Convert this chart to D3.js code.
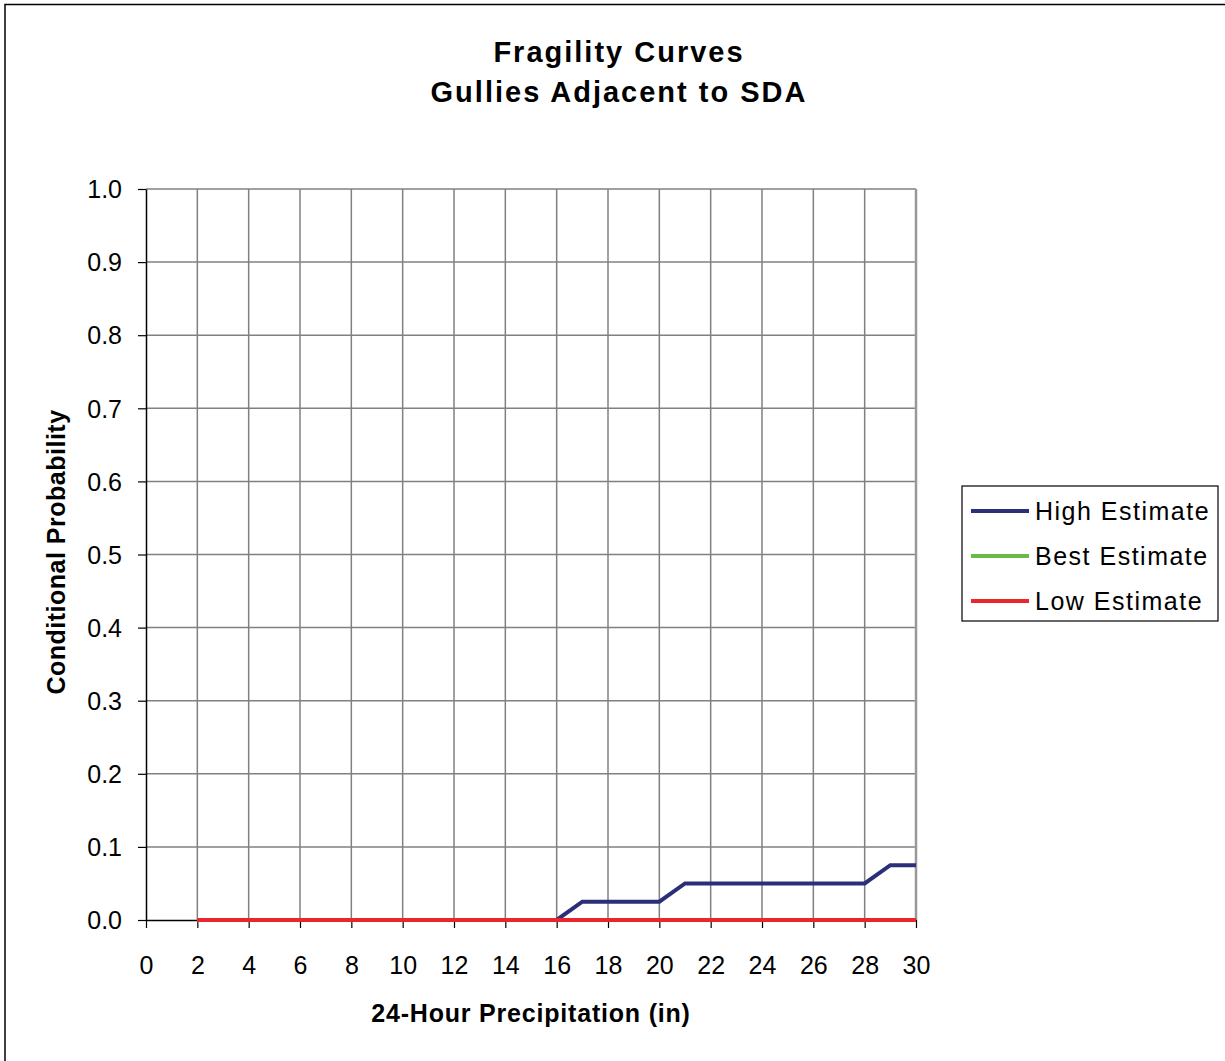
<!DOCTYPE html>
<html><head><meta charset="utf-8">
<script src="https://cdn.jsdelivr.net/npm/d3@7/dist/d3.min.js"></script>
<style>body{margin:0;background:#fff}svg{display:block}text{font-family:"Liberation Sans",Arial,sans-serif}</style>
</head><body>
<svg id="c" width="1225" height="1061"></svg>
<script>
const xValues = [2,3,4,5,6,7,8,9,10,11,12,13,14,15,16,17,18,19,20,21,22,23,24,25,26,27,28,29,30];
const highEstimate = [0,0,0,0,0,0,0,0,0,0,0,0,0,0,0,0.025,0.025,0.025,0.025,0.05,0.05,0.05,0.05,0.05,0.05,0.05,0.05,0.075,0.075];
const bestEstimate = [0,0,0,0,0,0,0,0,0,0,0,0,0,0,0,0,0,0,0,0,0,0,0,0,0,0,0,0,0];
const lowEstimate  = [0,0,0,0,0,0,0,0,0,0,0,0,0,0,0,0,0,0,0,0,0,0,0,0,0,0,0,0,0];
const xTicks = [0,2,4,6,8,10,12,14,16,18,20,22,24,26,28,30];
const yTicks = [0,0.1,0.2,0.3,0.4,0.5,0.6,0.7,0.8,0.9,1.0];
const seriesNames = ["High Estimate","Best Estimate","Low Estimate"];
const seriesColors = ["#2b2f7a","#66bb44","#e8262b"];
const titleLines = ["Fragility Curves","Gullies Adjacent to SDA"];

const svg = d3.select("#c");
const L = 146, R = 916, T = 189, B = 920;
const x = d3.scaleLinear().domain([0,30]).range([L,R]);
const y = d3.scaleLinear().domain([0,1]).range([B,T]);

// outer frame
svg.append("rect").attr("x",5).attr("y",4.5).attr("width",1240).attr("height",1080)
  .attr("fill","none").attr("stroke","#000").attr("stroke-width",1.5);

// grid
const g = svg.append("g");
g.selectAll(".vg").data(xTicks.slice(1)).join("line")
  .attr("x1",d=>x(d)).attr("x2",d=>x(d)).attr("y1",T).attr("y2",B)
  .attr("stroke","#808080").attr("stroke-width",1.5);
g.selectAll(".hg").data(yTicks.slice(1)).join("line")
  .attr("x1",L).attr("x2",R).attr("y1",d=>y(d)).attr("y2",d=>y(d))
  .attr("stroke","#808080").attr("stroke-width",1.5);
g.append("line").attr("x1",R).attr("x2",R).attr("y1",T).attr("y2",B).attr("stroke","#999").attr("stroke-width",2.5);

// axes
const xAxis = d3.axisBottom(x).tickValues(xTicks).tickSize(8).tickSizeOuter(0).tickFormat(d3.format("d"));
const yAxis = d3.axisLeft(y).tickValues(yTicks).tickSize(8).tickSizeOuter(0).tickFormat(d3.format(".1f"));
const gx = svg.append("g").attr("transform",`translate(0,${B})`).call(xAxis);
const gy = svg.append("g").attr("transform",`translate(${L},0)`).call(yAxis);
[gx,gy].forEach(a=>{
  a.attr("font-size",25).attr("font-family","Liberation Sans, Arial, sans-serif");
  a.select(".domain").attr("stroke","#000").attr("stroke-width",1.5);
  a.selectAll(".tick line").attr("stroke","#000").attr("stroke-width",1.2);
  a.selectAll(".tick text").attr("fill","#000").style("font-size","25px");
});
gx.selectAll(".tick text").attr("dy","0.71em").attr("y",36);
gy.selectAll(".tick text").attr("x",-24).attr("dy","0.35em");

// lines
const line = d3.line().x(d=>x(d[0])).y(d=>y(d[1]));
const allSeries = [highEstimate,bestEstimate,lowEstimate];
allSeries.forEach((vals,i)=>{
  svg.append("path").datum(xValues.map((v,j)=>[v,vals[j]]))
    .attr("d",line).attr("fill","none").attr("stroke",seriesColors[i]).attr("stroke-width",4)
    .attr("stroke-linejoin","miter");
});

// titles
svg.append("text").attr("x",619).attr("y",62).attr("text-anchor","middle").attr("font-size",29).attr("font-weight","bold").attr("letter-spacing",2.0).text(titleLines[0]);
svg.append("text").attr("x",619).attr("y",102).attr("text-anchor","middle").attr("font-size",29).attr("font-weight","bold").attr("letter-spacing",2.0).text(titleLines[1]);
svg.append("text").attr("x",531).attr("y",1022).attr("text-anchor","middle").attr("font-size",25).attr("font-weight","bold").attr("letter-spacing",0.8).text("24-Hour Precipitation (in)");
svg.append("text").attr("transform","translate(65,552) rotate(-90)").attr("text-anchor","middle").attr("font-size",25).attr("font-weight","bold").attr("letter-spacing",0.5).text("Conditional Probability");

// legend
const lg = svg.append("g");
lg.append("rect").attr("x",962).attr("y",486).attr("width",256).attr("height",135).attr("fill","#fff").attr("stroke","#000").attr("stroke-width",1.2);
seriesNames.forEach((n,i)=>{
  const yy = 511 + i*45;
  lg.append("line").attr("x1",971).attr("x2",1029).attr("y1",yy).attr("y2",yy).attr("stroke",seriesColors[i]).attr("stroke-width",4);
  lg.append("text").attr("x",1035).attr("y",yy+9).attr("font-size",25).attr("letter-spacing",1.5).text(n);
});
</script>
</body></html>
